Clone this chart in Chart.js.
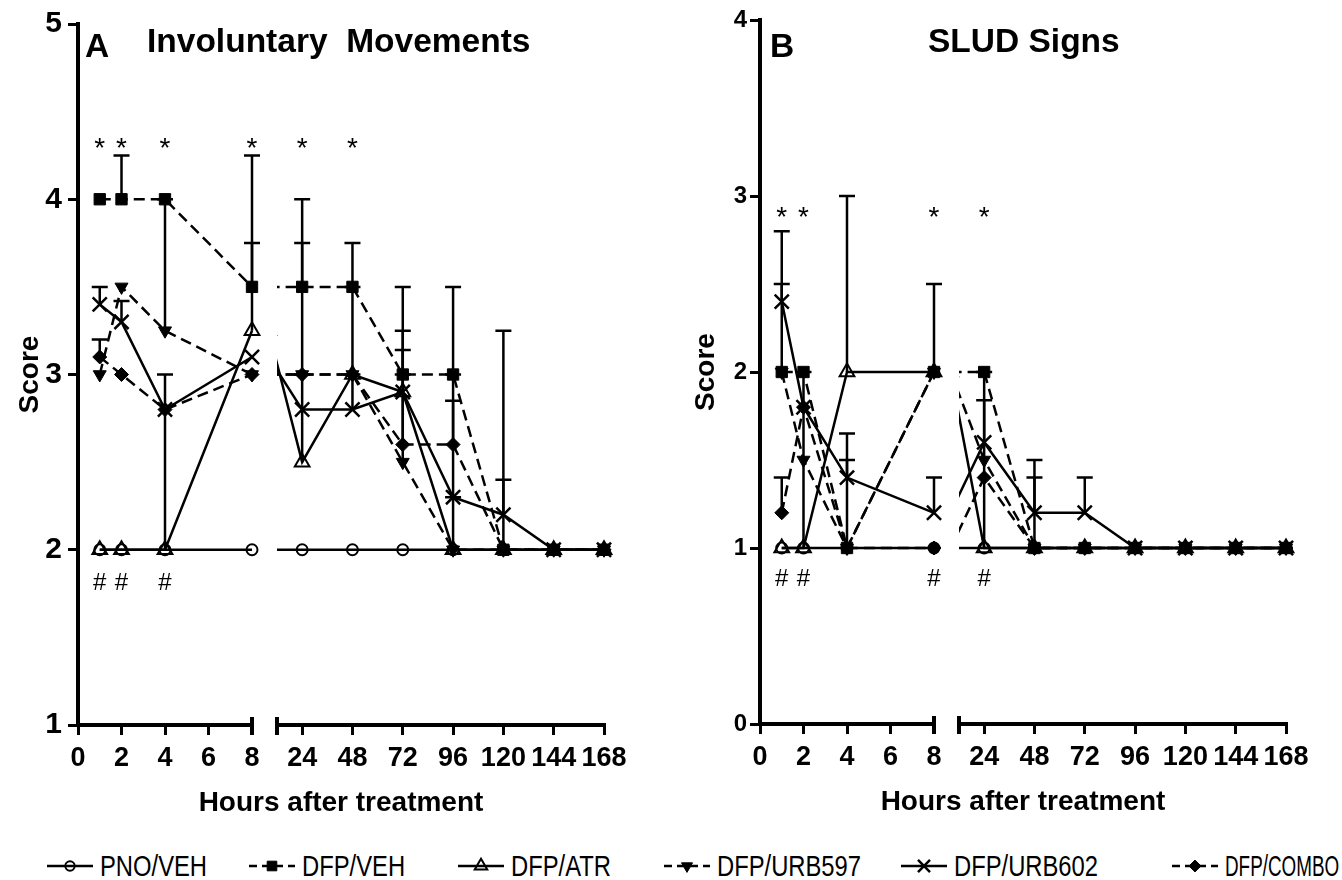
<!DOCTYPE html>
<html lang="en">
<head>
<meta charset="UTF-8">
<title>Involuntary Movements and SLUD Signs</title>
<script src="https://cdn.jsdelivr.net/npm/chart.js"></script>
<style>
    html, body { margin: 0; padding: 0; background: #fff; overflow: hidden; }
    body { width: 1342px; height: 880px; position: relative; font-family: "Liberation Sans", Arial, sans-serif; color: #000; }
    .panel { position: absolute; top: 0; width: 682px; height: 830px; }
    #panelA { left: 0; }
    #panelB { left: 682px; }
    .head { position: absolute; font-weight: bold; font-size: 33.5px; line-height: 1; white-space: pre; }
    #legend { position: absolute; left: 0; top: 850px; width: 1342px; height: 32px; }
    .item { position: absolute; top: 0; height: 32px; display: flex; align-items: center; white-space: nowrap; }
    .item canvas { margin-right: 7px; }
    .item span { display: inline-block; font-size: 29px; transform: scaleX(0.82); transform-origin: left center; }
    .item span.tight { transform: scaleX(0.65); }
</style>
</head>
<body>
    <div id="panelA" class="panel">
        <canvas id="chartA" width="682" height="830"></canvas>
        <div class="head" style="left:85px; top:29px;">A</div>
        <div class="head" style="left:147px; top:24px;">Involuntary  Movements</div>
    </div>
    <div id="panelB" class="panel">
        <canvas id="chartB" width="682" height="830"></canvas>
        <div class="head" style="left:88px; top:29px;">B</div>
        <div class="head" style="left:246px; top:24px;">SLUD Signs</div>
    </div>
    <div id="legend"></div>

<script>
    // time points (hours after treatment)
    const hours = [1, 2, 4, 8, 24, 48, 72, 96, 120, 144, 168];
    const groups = ['PNO/VEH', 'DFP/VEH', 'DFP/ATR', 'DFP/URB597', 'DFP/URB602', 'DFP/COMBO'];

    // A - involuntary movements, mean score
    const imPnoVeh    = [2,   2,   2,    2,    2,   2,   2,   2,   2,   2, 2];
    const imDfpVeh    = [4,   4,   4,    3.5,  3.5, 3.5, 3,   3,   2,   2, 2];
    const imDfpAtr    = [2,   2,   2,    3.25, 2.5, 3,   2.9, 2,   2,   2, 2];
    const imDfpUrb597 = [3,   3.5, 3.25, 3,    3,   3,   2.5, 2,   2,   2, 2];
    const imDfpUrb602 = [3.4, 3.3, 2.8,  3.1,  2.8, 2.8, 2.9, 2.3, 2.2, 2, 2];
    const imDfpCombo  = [3.1, 3,   2.8,  3,    3,   3,   2.6, 2.6, 2,   2, 2];
    // A - SEM (drawn upward)
    const imErrPnoVeh    = [0,   0,    0,    0,    0,    0,    0,    0,    0,    0, 0];
    const imErrDfpVeh    = [0,   0.25, 0,    0.75, 0.5,  0.25, 0.5,  0.5,  1.25, 0, 0];
    const imErrDfpAtr    = [0,   0,    1,    0.5,  0.5,  0,    0,    0.3,  0,    0, 0];
    const imErrDfpUrb597 = [0,   0,    0.75, 0,    0.75, 0,    0.5,  0,    0,    0, 0];
    const imErrDfpUrb602 = [0.1, 0.12, 0,    0,    0,    0.2,  0.35, 0.55, 0.2,  0, 0];
    const imErrDfpCombo  = [0.1, 0,    0,    0,    0,    0.5,  0.54, 0.4,  0,    0, 0];
    const imStars  = [1, 2, 4, 8, 24, 48];
    const imHashes = [1, 2, 4];

    // B - SLUD signs, mean score
    const slPnoVeh    = [1,   1,   1,   1,   1,   1,   1,   1, 1, 1, 1];
    const slDfpVeh    = [2,   2,   1,   2,   2,   1,   1,   1, 1, 1, 1];
    const slDfpAtr    = [1,   1,   2,   2,   1,   1,   1,   1, 1, 1, 1];
    const slDfpUrb597 = [2,   1.5, 1,   2,   1.5, 1,   1,   1, 1, 1, 1];
    const slDfpUrb602 = [2.4, 1.8, 1.4, 1.2, 1.6, 1.2, 1.2, 1, 1, 1, 1];
    const slDfpCombo  = [1.2, 1.8, 1,   1,   1.4, 1,   1,   1, 1, 1, 1];
    // B - SEM (drawn upward)
    const slErrPnoVeh    = [0,   0, 0,    0,   0,    0,   0,   0, 0, 0, 0];
    const slErrDfpVeh    = [0.5, 0, 0.5,  0.5, 0,    0,   0,   0, 0, 0, 0];
    const slErrDfpAtr    = [0,   1, 1,    0,   1,    0,   0,   0, 0, 0, 0];
    const slErrDfpUrb597 = [0,   0, 0,    0,   0,    0.4, 0,   0, 0, 0, 0];
    const slErrDfpUrb602 = [0.4, 0, 0.25, 0.2, 0.24, 0.3, 0.2, 0, 0, 0, 0];
    const slErrDfpCombo  = [0.2, 0, 0,    0,   0,    0,   0,   0, 0, 0, 0];
    const slStars  = [1, 2, 8, 24];
    const slHashes = [1, 2, 8, 24];

    const FONT = '"Liberation Sans", Arial, sans-serif';
    const CLEAR = 'rgba(0,0,0,0)';
    const styles = [
        { dash: [],      shape: 'circle',   rot: 0,   r: 5.5, fill: CLEAR,  bw: 2 },
        { dash: [11, 6], shape: 'rect',     rot: 0,   r: 8,   fill: '#000', bw: 1 },
        { dash: [],      shape: 'triangle', rot: 0,   r: 8.5, fill: CLEAR,  bw: 2 },
        { dash: [11, 6], shape: 'triangle', rot: 180, r: 7.5, fill: '#000', bw: 1 },
        { dash: [],      shape: 'crossRot', rot: 0,   r: 10,  fill: '#000', bw: 2.5 },
        { dash: [11, 6], shape: 'rectRot',  rot: 0,   r: 7,   fill: '#000', bw: 1 }
    ];

    Chart.defaults.font.family = FONT;
    Chart.defaults.color = '#000';

    // each series is drawn twice: 0-8 h on the left axis piece, 24-168 h on the right one
    function buildDatasets(values, errors) {
        const sets = [];
        values.forEach((vals, i) => {
            const st = styles[i];
            const pts = hours.map((h, j) => ({ x: h, y: vals[j] }));
            const base = {
                label: groups[i],
                borderColor: '#000', borderWidth: 2.5, borderDash: st.dash,
                pointStyle: st.shape, pointRotation: st.rot, pointRadius: st.r,
                pointBorderWidth: st.bw, pointBorderColor: '#000', pointBackgroundColor: st.fill,
                tension: 0, clip: false
            };
            const early = pts.filter(p => p.x <= 8);
            sets.push(Object.assign({}, base, { xAxisID: 'early', data: early, errors: errors[i].slice(0, early.length) }));
            sets.push(Object.assign({}, base, { xAxisID: 'late', data: pts, errors: errors[i] }));
        });
        return sets;
    }

    function drawErrorBars(chart, meta, ds) {
        const ctx = chart.ctx, xs = meta.xScale, ys = meta.yScale;
        ctx.save();
        ctx.strokeStyle = '#000';
        ctx.lineWidth = 2.5;
        ctx.setLineDash([]);
        ctx.beginPath();
        ds.data.forEach((p, i) => {
            const e = ds.errors[i];
            if (!e || p.x < xs.min) return;
            const x = xs.getPixelForValue(p.x);
            const y0 = ys.getPixelForValue(p.y);
            const y1 = ys.getPixelForValue(p.y + e);
            ctx.moveTo(x, y0);
            ctx.lineTo(x, y1);
            ctx.moveTo(x - 8, y1);
            ctx.lineTo(x + 8, y1);
        });
        ctx.stroke();
        ctx.restore();
    }

    // keep every dataset inside its own axis piece, so lines crossing the break are cut
    const segmentClip = {
        id: 'segmentClip',
        beforeDatasetDraw(chart, args) {
            const xs = args.meta.xScale, area = chart.chartArea, ctx = chart.ctx;
            const left = xs.id === 'late' ? xs.left : xs.left - 12;
            ctx.save();
            ctx.beginPath();
            ctx.rect(left, area.top - 14, xs.right + 12 - left, area.bottom - area.top + 28);
            ctx.clip();
            drawErrorBars(chart, args.meta, chart.data.datasets[args.index]);
        },
        afterDatasetDraw(chart) {
            chart.ctx.restore();
        }
    };

    const breakMarks = {
        id: 'breakMarks',
        afterDraw(chart) {
            const ctx = chart.ctx, bottom = chart.chartArea.bottom;
            ctx.save();
            ctx.strokeStyle = '#000';
            ctx.lineWidth = 4;
            ctx.beginPath();
            [chart.scales.early.right, chart.scales.late.left].forEach(x => {
                ctx.moveTo(x, bottom - 8);
                ctx.lineTo(x, bottom + 10);
            });
            ctx.stroke();
            ctx.restore();
        }
    };

    const sigMarks = {
        id: 'sigMarks',
        afterDatasetsDraw(chart, args, opts) {
            const ctx = chart.ctx, ys = chart.scales.y;
            const px = h => (h <= 8 ? chart.scales.early : chart.scales.late).getPixelForValue(h);
            ctx.save();
            ctx.fillStyle = '#000';
            ctx.textAlign = 'center';
            ctx.textBaseline = 'alphabetic';
            ctx.font = '28px ' + FONT;
            opts.stars.forEach(h => ctx.fillText('*', px(h), ys.getPixelForValue(opts.starLevel) + 16));
            ctx.font = '24px ' + FONT;
            opts.hashes.forEach(h => ctx.fillText('#', px(h), ys.getPixelForValue(opts.hashLevel) + 8.5));
            ctx.restore();
        }
    };

    function xAxis(extra) {
        return Object.assign({
            type: 'linear',
            position: 'bottom',
            stack: 'hours',
            grid: { drawOnChartArea: false, drawTicks: true, tickLength: 10, lineWidth: 3, color: '#000' },
            border: { display: true, width: 4, color: '#000' },
            afterFit(scale) { scale.height = 61; }
        }, extra);
    }

    function xTicks(extra) {
        return Object.assign({ color: '#000', font: { size: 27, weight: 'bold' }, padding: 7, autoSkip: false, maxRotation: 0 }, extra);
    }

    function makeChart(id, cfg) {
        return new Chart(document.getElementById(id), {
            type: 'line',
            data: { datasets: buildDatasets(cfg.values, cfg.errors) },
            options: {
                responsive: false,
                animation: false,
                events: [],
                layout: { padding: { top: cfg.top, right: 78, bottom: cfg.bottom, left: 0 } },
                scales: {
                    early: xAxis({ min: 0, max: 8, stackWeight: 174, ticks: xTicks({ stepSize: 2 }) }),
                    gap: { type: 'linear', position: 'bottom', stack: 'hours', stackWeight: 25, display: false, min: 0, max: 1 },
                    late: xAxis({ min: 12, max: 168, stackWeight: 327, ticks: xTicks({ stepSize: 24, includeBounds: false }) }),
                    y: {
                        min: cfg.yMin, max: cfg.yMax,
                        ticks: { stepSize: 1, color: '#000', font: { size: cfg.yFont, weight: 'bold' }, padding: cfg.yPad },
                        grid: { drawOnChartArea: false, drawTicks: true, tickLength: 10, lineWidth: 3, color: '#000' },
                        border: { display: true, width: 4, color: '#000' },
                        title: { display: true, text: 'Score', color: '#000', font: { size: 28, weight: 'bold' }, padding: { top: cfg.titlePad, bottom: 0 } },
                        afterFit(scale) { scale.width = 78; }
                    }
                },
                plugins: {
                    legend: { display: false },
                    tooltip: { enabled: false },
                    title: {
                        display: true, position: 'bottom', fullSize: false,
                        text: 'Hours after treatment', color: '#000',
                        font: { size: 28, weight: 'bold' }, padding: { top: 0, bottom: 0 }
                    },
                    sigMarks: cfg.marks
                }
            },
            plugins: [segmentClip, breakMarks, sigMarks]
        });
    }

    makeChart('chartA', {
        values: [imPnoVeh, imDfpVeh, imDfpAtr, imDfpUrb597, imDfpUrb602, imDfpCombo],
        errors: [imErrPnoVeh, imErrDfpVeh, imErrDfpAtr, imErrDfpUrb597, imErrDfpUrb602, imErrDfpCombo],
        yMin: 1, yMax: 5, yFont: 30, yPad: 6, titlePad: 13, top: 24, bottom: 10.4,
        marks: { stars: imStars, starLevel: 4.33, hashes: imHashes, hashLevel: 1.82 }
    });

    makeChart('chartB', {
        values: [slPnoVeh, slDfpVeh, slDfpAtr, slDfpUrb597, slDfpUrb602, slDfpCombo],
        errors: [slErrPnoVeh, slErrDfpVeh, slErrDfpAtr, slErrDfpUrb597, slErrDfpUrb602, slErrDfpCombo],
        yMin: 0, yMax: 4, yFont: 24, yPad: 3, titlePad: 7, top: 20, bottom: 11.4,
        marks: { stars: slStars, starLevel: 2.92, hashes: slHashes, hashLevel: 0.835 }
    });

    // legend: line sample with marker, then the group name
    const legendLeft = [47, 249, 458, 664, 901, 1172];
    const legend = document.getElementById('legend');
    groups.forEach((g, i) => {
        const st = styles[i];
        const item = document.createElement('div');
        item.className = 'item';
        item.style.left = legendLeft[i] + 'px';
        const c = document.createElement('canvas');
        c.width = 46;
        c.height = 24;
        const ctx = c.getContext('2d');
        ctx.strokeStyle = '#000';
        ctx.lineWidth = 2.5;
        ctx.setLineDash(st.dash.length ? [8, 5] : []);
        ctx.beginPath();
        ctx.moveTo(0, 12);
        ctx.lineTo(46, 12);
        ctx.stroke();
        ctx.setLineDash([]);
        ctx.fillStyle = st.fill;
        ctx.lineWidth = st.bw;
        Chart.helpers.drawPoint(ctx, { pointStyle: st.shape, rotation: st.rot, radius: st.r * 0.85, borderWidth: st.bw }, 23, 12);
        const label = document.createElement('span');
        label.textContent = g;
        if (i === groups.length - 1) label.className = 'tight';
        item.appendChild(c);
        item.appendChild(label);
        legend.appendChild(item);
    });
</script>
</body>
</html>
